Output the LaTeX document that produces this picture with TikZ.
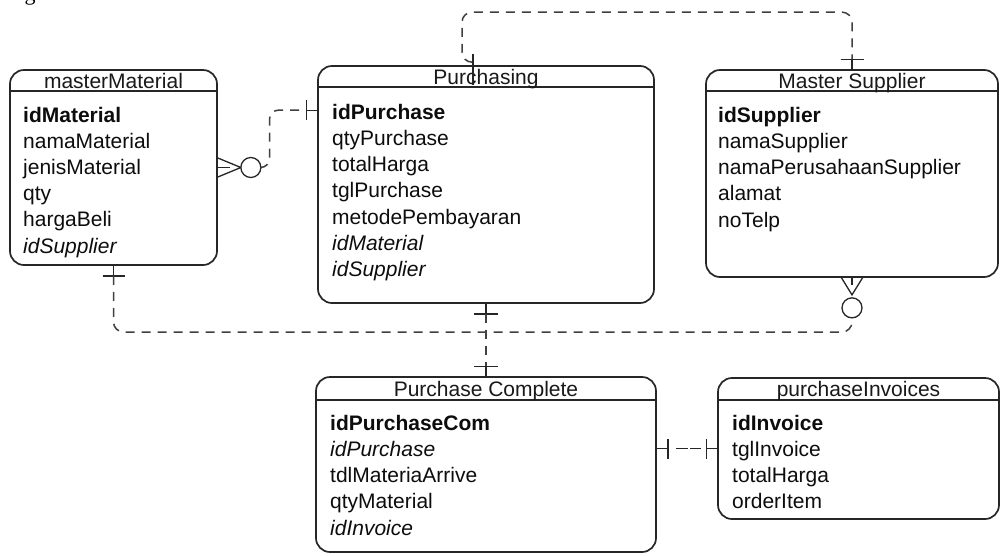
\documentclass[tikz,border=0pt]{standalone}
\usepackage{fontspec}
\setmainfont{Liberation Sans}
\newfontfamily\capfont{Liberation Serif}
\usetikzlibrary{positioning,calc}

\begin{document}
\begin{tikzpicture}[x=1pt, y=-1pt,
    tbl/.style={draw=black!85, line width=1.7pt, rounded corners=14pt, inner sep=0pt},
    hdr/.style={draw=black!85, line width=1.4pt},
    ttl/.style={inner sep=0pt, text height=14pt, text depth=0pt, text=black!90, font=\fontsize{21}{25}\selectfont},
    attr/.style={anchor=west, inner sep=0pt, text height=14pt, text depth=0pt, text=black!95, font=\fontsize{21}{25}\selectfont},
    pk/.style={attr, font=\fontsize{21}{25}\selectfont\bfseries},
    fk/.style={attr, font=\fontsize{21}{25}\selectfont\itshape},
    erline/.style={draw=black!85, line width=1.3pt},
    erdash/.style={draw=black!75, line width=1.5pt, dash pattern=on 9pt off 7pt},
    ering/.style={circle, draw=black!85, line width=1.3pt, fill=white, minimum size=20pt, inner sep=0pt}]
    \path[use as bounding box, fill=white] (0,0) rectangle (1001,555);
    \node[anchor=base, inner sep=0pt, font=\capfont\fontsize{22}{26}\selectfont] (figFrag) at (30,0) {g};

    \node[tbl, minimum width=207pt, minimum height=195pt] (mm) at (113.5,167.5) {};
    \node[tbl, minimum width=336pt, minimum height=237pt] (purch) at (486,184.5) {};
    \node[tbl, minimum width=292pt, minimum height=207pt] (supp) at (852,173.5) {};
    \node[tbl, minimum width=340pt, minimum height=175pt] (pcom) at (486,464.5) {};
    \node[tbl, minimum width=281pt, minimum height=141pt] (inv) at (858.5,448.5) {};

    \draw[hdr] ([yshift=-22pt]mm.north west) -- ([yshift=-22pt]mm.north east);
    \draw[hdr] ([yshift=-22pt]purch.north west) -- ([yshift=-22pt]purch.north east);
    \draw[hdr] ([yshift=-22pt]supp.north west) -- ([yshift=-22pt]supp.north east);
    \draw[hdr] ([yshift=-24pt]pcom.north west) -- ([yshift=-24pt]pcom.north east);
    \draw[hdr] ([yshift=-23pt]inv.north west) -- ([yshift=-23pt]inv.north east);

    \node[ttl] (mmTitle) at (113.5,81) {masterMaterial};
    \node[ttl] (purchTitle) at (486,77) {Purchasing};
    \node[ttl] (suppTitle) at (852,81) {Master Supplier};
    \node[ttl] (pcomTitle) at (486,389) {Purchase Complete};
    \node[ttl] (invTitle) at (858.5,389.5) {purchaseInvoices};

    \node[pk] (mm1) at (23,115) {idMaterial};
    \node[attr] (mm2) at (23,141.2) {namaMaterial};
    \node[attr] (mm3) at (23,167.4) {jenisMaterial};
    \node[attr] (mm4) at (23,193.6) {qty};
    \node[attr] (mm5) at (23,219.8) {hargaBeli};
    \node[fk] (mm6) at (23,246) {idSupplier};

    \node[pk] (purch1) at (332,112) {idPurchase};
    \node[attr] (purch2) at (332,138.3) {qtyPurchase};
    \node[attr] (purch3) at (332,164.6) {totalHarga};
    \node[attr] (purch4) at (332,190.9) {tglPurchase};
    \node[attr] (purch5) at (332,217.2) {metodePembayaran};
    \node[fk] (purch6) at (332,243.5) {idMaterial};
    \node[fk] (purch7) at (332,269.8) {idSupplier};

    \node[pk] (supp1) at (718,115) {idSupplier};
    \node[attr] (supp2) at (718,141.3) {namaSupplier};
    \node[attr] (supp3) at (718,167.6) {namaPerusahaanSupplier};
    \node[attr] (supp4) at (718,193.9) {alamat};
    \node[attr] (supp5) at (718,220.2) {noTelp};

    \node[pk] (pcom1) at (330,423) {idPurchaseCom};
    \node[fk] (pcom2) at (330,449.3) {idPurchase};
    \node[attr] (pcom3) at (330,475.6) {tdlMateriaArrive};
    \node[attr] (pcom4) at (330,501.9) {qtyMaterial};
    \node[fk] (pcom5) at (330,528.2) {idInvoice};

    \node[pk] (inv1) at (732,423) {idInvoice};
    \node[attr] (inv2) at (732,449.3) {tglInvoice};
    \node[attr] (inv3) at (732,475.6) {totalHarga};
    \node[attr] (inv4) at (732,501.9) {orderItem};

    \coordinate (purchL) at ([yshift=-45pt]purch.north west);
    \coordinate (purchT) at ([xshift=-13pt]purch.north);
    \coordinate (purchB) at ([yshift=-10pt]purch.south);
    \coordinate (pcomT) at ([yshift=10pt]pcom.north);
    \coordinate (mmBar) at ([yshift=-10pt]mm.south);
    \coordinate (busC) at (0,332);
    \coordinate (pcomR) at (pcom.east |- inv.west);
    \coordinate (pcomBar) at ([xshift=11pt]pcomR);
    \coordinate (invL) at ([xshift=-11pt]inv.west);

    \draw[erline] ([yshift=9.5pt]mm.east) -- ([xshift=23pt]mm.east) -- ([yshift=-9.5pt]mm.east);
    \draw[erline] (mm.east) -- ([xshift=12pt]mm.east);
    \node[ering] (mmRing) at ([xshift=33pt]mm.east) {};
    \draw[erdash, rounded corners=9pt] (mmRing.east) -- ++(8,0) |- ([xshift=-11pt]purchL);
    \draw[erline] ([xshift=-11pt]purchL) -- (purchL);
    \draw[erline] ([xshift=-11pt,yshift=10pt]purchL) -- ([xshift=-11pt,yshift=-10pt]purchL);

    \draw[erdash, rounded corners=10pt] ([yshift=3pt]purchT) -- ([xshift=-11pt,yshift=3pt]purchT) |- ([yshift=57pt]supp.north) -- ([yshift=10pt]supp.north);
    \draw[erline] ([yshift=11pt]purchT) -- ([yshift=-20pt]purchT);
    \draw[erline] ([yshift=10pt]supp.north) -- (supp.north);
    \draw[erline] ([xshift=-11.5pt,yshift=10pt]supp.north) -- ([xshift=11.5pt,yshift=10pt]supp.north);

    \draw[erline] ([xshift=-10.5pt]supp.south) -- ([yshift=-17pt]supp.south) -- ([xshift=10.5pt]supp.south);
    \draw[erline] (supp.south) -- ([yshift=-7pt]supp.south);
    \node[ering] (suppRing) at ([yshift=-30pt]supp.south) {};
    \draw[erline] (mm.south) -- (mmBar);
    \draw[erline] ([xshift=-11pt]mmBar) -- ([xshift=11pt]mmBar);
    \draw[erdash, rounded corners=10pt] (mmBar) -- (mmBar |- busC) -| (suppRing.south);

    \draw[erline] (purch.south) -- (purchB);
    \draw[erline] ([xshift=-12pt]purchB) -- ([xshift=12pt]purchB);
    \draw[erdash] (purchB) -- (pcomT);
    \draw[erline] (pcomT) -- (pcom.north);
    \draw[erline] ([xshift=-12pt]pcomT) -- ([xshift=12pt]pcomT);

    \draw[erline] (pcomR) -- (pcomBar);
    \draw[erline] ([yshift=10pt]pcomBar) -- ([yshift=-10pt]pcomBar);
    \draw[erline, dash pattern=on 12pt off 2pt on 13pt off 20pt] ([xshift=8pt]pcomBar) -- ([xshift=-5pt]invL);
    \draw[erline] (invL) -- (inv.west);
    \draw[erline] ([yshift=10pt]invL) -- ([yshift=-10pt]invL);
\end{tikzpicture}
\end{document}
